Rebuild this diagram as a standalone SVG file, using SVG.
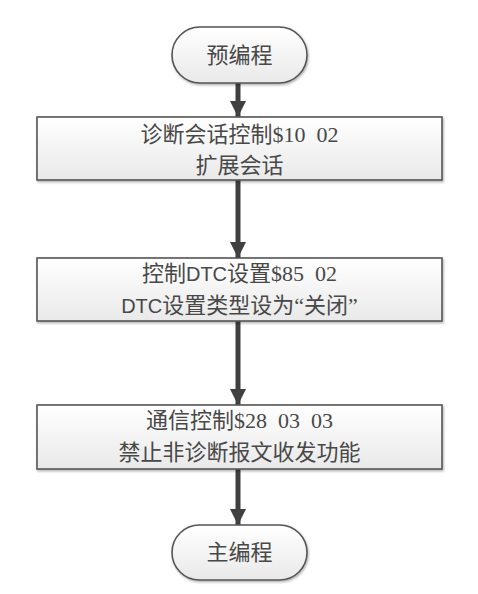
<svg xmlns="http://www.w3.org/2000/svg" width="478" height="594" viewBox="0 0 478 594">
<style>
.node{fill:url(#g);stroke:#555;stroke-width:1.6}
.t{font-family:"Liberation Serif","Noto Sans CJK SC",serif;font-size:22px;fill:#484848;text-anchor:middle;white-space:pre}
.s{font-family:"Liberation Sans","Noto Sans CJK SC",sans-serif}
.c{stroke:#404040;stroke-width:5;fill:none}
</style>
<defs>
<linearGradient id="g" x1="0" y1="0" x2="0" y2="1">
<stop offset="0" stop-color="#ffffff"/>
<stop offset="1" stop-color="#e9e9e9"/>
</linearGradient>
<marker id="ah" markerUnits="userSpaceOnUse" markerWidth="18" markerHeight="16" refX="16" refY="8" orient="auto">
<path d="M0,0 L16,8 L0,16 Z" fill="#404040"/>
</marker>
<filter id="sh" x="-5%" y="-5%" width="110%" height="120%">
<feDropShadow dx="1" dy="1.5" stdDeviation="0.8" flood-color="#000" flood-opacity="0.3"/>
</filter>
</defs>
<rect width="478" height="594" fill="#fff"/>
<g id="connectors">
<line class="c" x1="238" y1="83" x2="238" y2="117" marker-end="url(#ah)"/>
<line class="c" x1="238" y1="180" x2="238" y2="258" marker-end="url(#ah)"/>
<line class="c" x1="238" y1="321" x2="238" y2="405" marker-end="url(#ah)"/>
<line class="c" x1="238" y1="469" x2="238" y2="525" marker-end="url(#ah)"/>
</g>
<g id="start">
<rect class="node" filter="url(#sh)" x="172" y="27" width="135" height="56" rx="28"/>
<text class="t" x="239.5" y="63">预编程</text>
</g>
<g id="step1">
<rect class="node" filter="url(#sh)" x="37" y="117" width="405" height="63"/>
<text class="t" x="239.5" y="142" xml:space="preserve">诊断会话控制$10  02</text>
<text class="t" x="239.5" y="173">扩展会话</text>
</g>
<g id="step2">
<rect class="node" filter="url(#sh)" x="37" y="258" width="405" height="63"/>
<text class="t" x="239.5" y="281" xml:space="preserve">控制<tspan class="s" font-size="20">DTC</tspan>设置$85  02</text>
<text class="t" x="239.5" y="313"><tspan class="s" font-size="20">DTC</tspan>设置类型设为“关闭”</text>
</g>
<g id="step3">
<rect class="node" filter="url(#sh)" x="37" y="405" width="405" height="64"/>
<text class="t" x="239.5" y="428" xml:space="preserve">通信控制$28  03  03</text>
<text class="t" x="239.5" y="460">禁止非诊断报文收发功能</text>
</g>
<g id="end">
<rect class="node" filter="url(#sh)" x="172" y="525" width="135" height="55" rx="27.5"/>
<text class="t" x="239.5" y="560">主编程</text>
</g>
</svg>
